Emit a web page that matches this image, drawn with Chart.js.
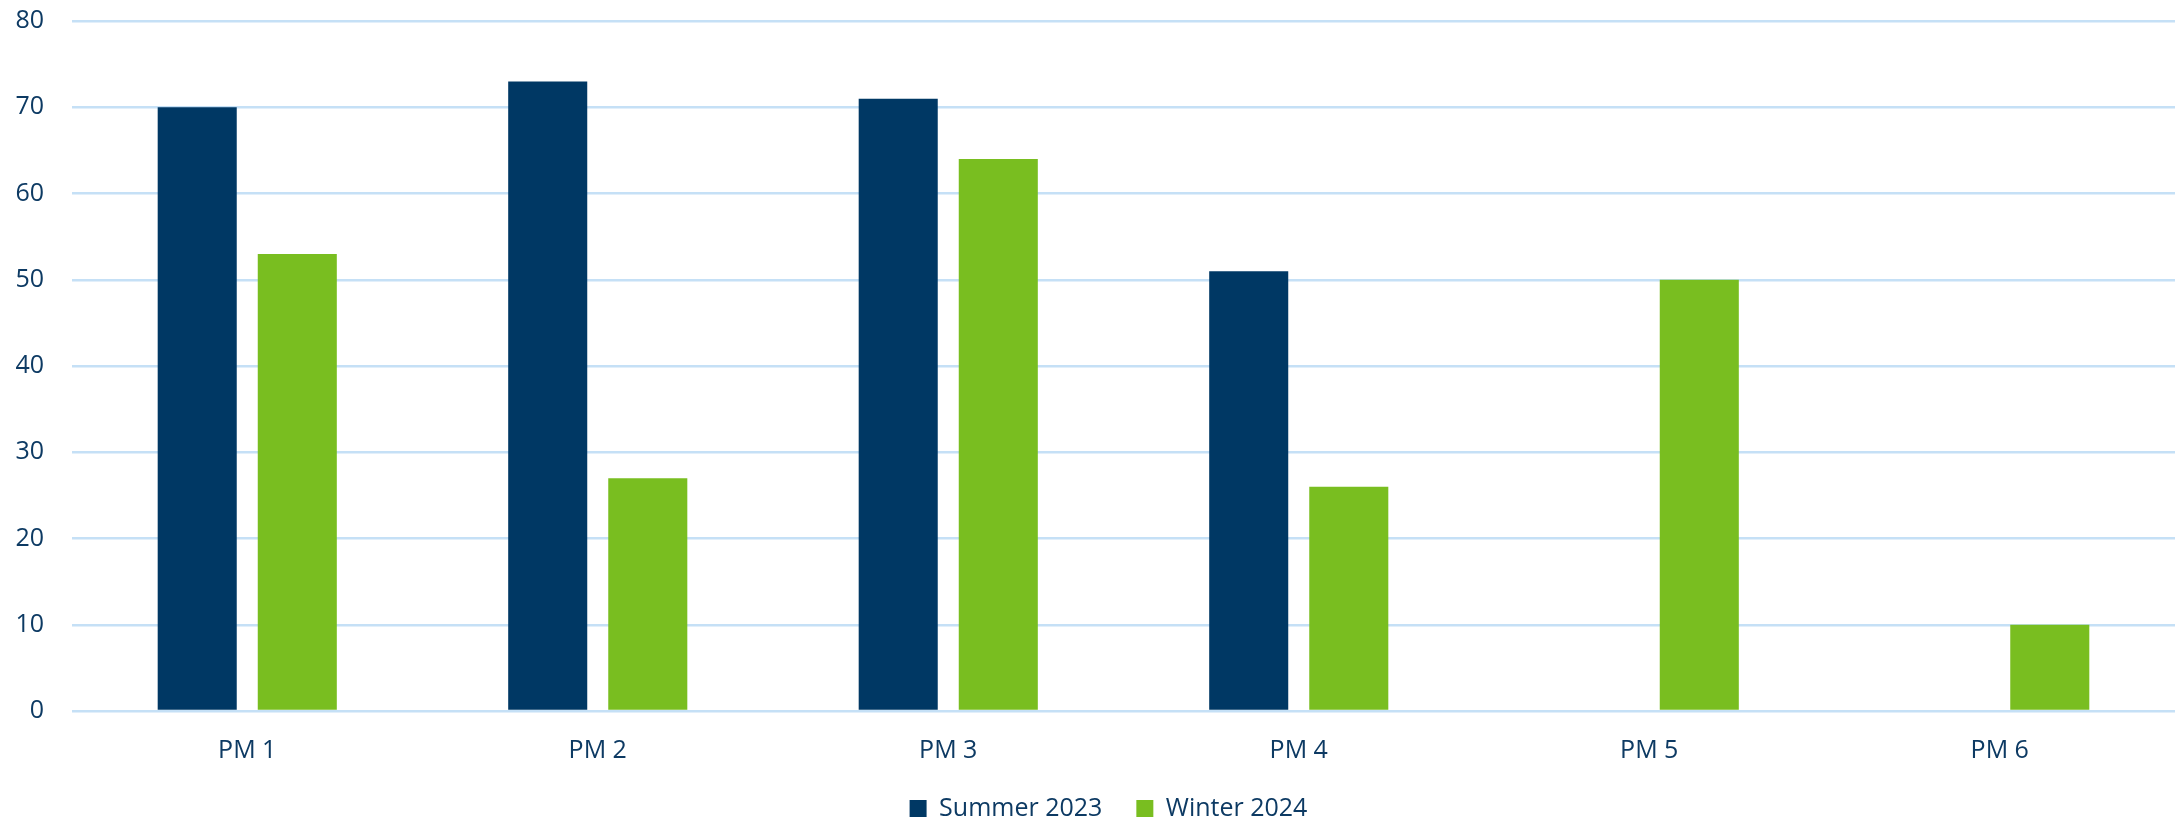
<!DOCTYPE html>
<html>
<head>
<meta charset="utf-8">
<script src="https://cdn.jsdelivr.net/npm/chart.js@4.4.0/dist/chart.umd.min.js"></script>
<style>
  html, body { margin: 0; padding: 0; background: #fff; }
  #wrap { width: 2178px; height: 820px; }
</style>
</head>
<body>
<div id="wrap"><canvas id="myChart" width="2178" height="820"></canvas></div>
<script>
// chart data
var categories = ["PM 1", "PM 2", "PM 3", "PM 4", "PM 5", "PM 6"];
var summer2023 = [70, 73, 71, 51, null, null];
var winter2024 = [53, 27, 64, 26, 50, 10];
var yTicks = [0, 10, 20, 30, 40, 50, 60, 70, 80];

var textColor = "#0d3a63";
var gridColor = "#c5e0f6";
var fontFamily = "'Open Sans', 'Liberation Sans', sans-serif";

// nudge the legend a bit left so it sits where the original one does
var legendNudge = {
    id: 'legendNudge',
    afterLayout: function (chart) {
        if (chart.legend) { chart.legend.left -= 30; }
    }
};

var ctx = document.getElementById('myChart').getContext('2d');
var chart = new Chart(ctx, {
    type: 'bar',
    data: {
        labels: categories,
        datasets: [{
            label: "Summer 2023",
            backgroundColor: "#003864",
            data: summer2023
        }, {
            label: "Winter 2024",
            backgroundColor: "#79be20",
            data: winter2024
        }]
    },
    plugins: [legendNudge],
    options: {
        responsive: false,
        animation: false,
        layout: { padding: { top: 21, right: 3, bottom: -11, left: 0 } },
        datasets: {
            bar: { categoryPercentage: 0.571, barPercentage: 0.79 }
        },
        plugins: {
            tooltip: { enabled: false },
            legend: {
                position: 'bottom',
                fullSize: false,
                labels: {
                    color: textColor,
                    boxWidth: 17,
                    boxHeight: 17,
                    padding: 34,
                    font: { family: fontFamily, size: 25 }
                }
            }
        },
        scales: {
            x: {
                afterFit: function (scale) { scale.height -= 21; },
                grid: { display: false },
                border: { display: false },
                ticks: {
                    color: textColor,
                    padding: 17,
                    font: { family: fontFamily, size: 25 }
                }
            },
            y: {
                min: 0,
                max: 80,
                afterFit: function (scale) {
                    scale.width = 72;
                    scale.paddingTop = 0;
                    scale.paddingBottom = 0;
                },
                afterBuildTicks: function (scale) {
                    scale.ticks = yTicks.map(function (v) { return { value: v }; });
                },
                border: { display: false },
                grid: { color: gridColor, lineWidth: 2.5, drawTicks: false },
                ticks: {
                    color: textColor,
                    padding: 28,
                    font: { family: fontFamily, size: 25 }
                }
            }
        }
    }
});
</script>
</body>
</html>
